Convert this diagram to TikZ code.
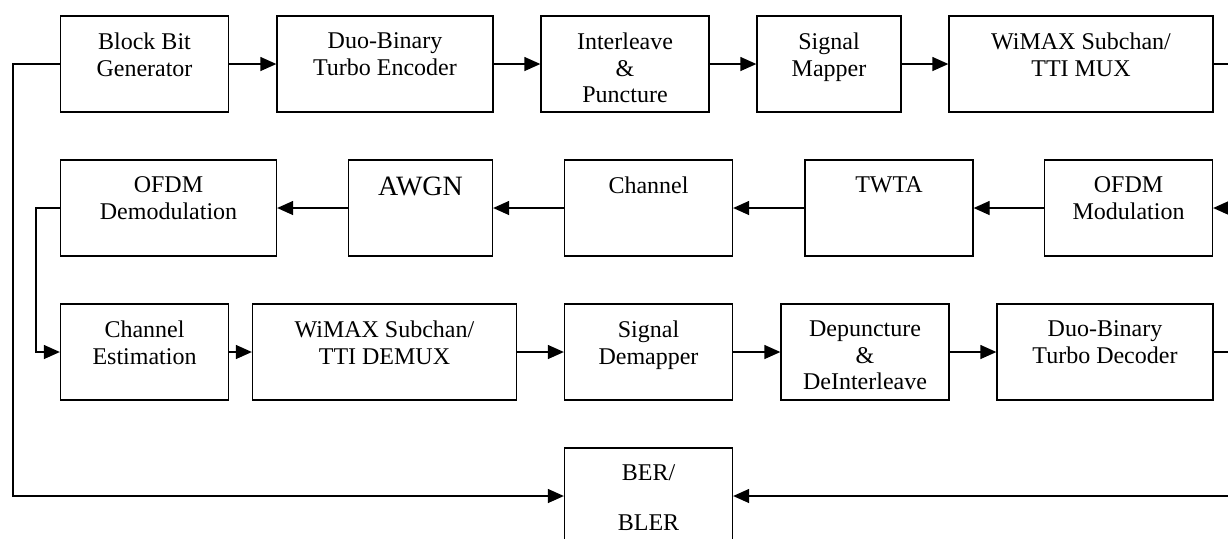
\documentclass[tikz,border=0pt]{standalone}
\usepackage{fontspec}
\setmainfont{Liberation Serif}
\usetikzlibrary{arrows.meta,positioning}

\tikzset{
  BlockBox/.style={draw, line width=0.65pt, minimum height=48pt, inner sep=0pt},
  BoxText/.style={inner sep=0pt, align=center, font=\fontsize{12}{13.3}\selectfont},
  Flow/.style={line width=0.65pt, -{Triangle[length=8pt,width=7pt]}}
}

\begin{document}
\begin{tikzpicture}[x=0.5pt,y=-0.5pt]
\path[use as bounding box, clip] (0,0) rectangle (1228,538);

% transmitter row
\node[BlockBox, minimum width=84pt]  (bbg)    at (144.5,64) {};
\node[BlockBox, minimum width=108pt] (enc)    at (385,64) {};
\node[BlockBox, minimum width=84pt]  (intl)   at (625,64) {};
\node[BlockBox, minimum width=72pt]  (map)    at (829,64) {};
\node[BlockBox, minimum width=132pt] (mux)    at (1081,64) {};

% channel row
\node[BlockBox, minimum width=108pt] (demod)  at (168.5,208) {};
\node[BlockBox, minimum width=72pt]  (awgn)   at (420.5,208) {};
\node[BlockBox, minimum width=84pt]  (chan)   at (648.5,208) {};
\node[BlockBox, minimum width=84pt]  (twta)   at (889,208) {};
\node[BlockBox, minimum width=84pt]  (mod)    at (1128.5,208) {};

% receiver row
\node[BlockBox, minimum width=84pt]  (est)    at (144.5,352) {};
\node[BlockBox, minimum width=132pt] (demux)  at (384.5,352) {};
\node[BlockBox, minimum width=84pt]  (demap)  at (648.5,352) {};
\node[BlockBox, minimum width=84pt]  (depunc) at (865,352) {};
\node[BlockBox, minimum width=108pt] (dec)    at (1105,352) {};

\node[BlockBox, minimum width=84pt]  (ber)    at (648.5,496) {};

% labels
\node[BoxText, below=8.6pt of bbg.north]    (bbgT)    {Block Bit\\Generator};
\node[BoxText, below=8.6pt of enc.north]    (encT)    {Duo-Binary\\Turbo Encoder};
\node[BoxText, below=8.6pt of intl.north]   (intlT)   {Interleave\\\&\\Puncture};
\node[BoxText, below=8.6pt of map.north]    (mapT)    {Signal\\Mapper};
\node[BoxText, below=8.6pt of mux.north]    (muxT)    {WiMAX Subchan/\\TTI MUX};
\node[BoxText, below=8.6pt of demod.north]  (demodT)  {OFDM\\Demodulation};
\node[BoxText, font=\fontsize{14}{16}\selectfont, below=8.7pt of awgn.north] (awgnT) {AWGN};
\node[BoxText, below=8.6pt of chan.north]   (chanT)   {Channel};
\node[BoxText, below=8.6pt of twta.north]   (twtaT)   {TWTA};
\node[BoxText, below=8.6pt of mod.north]    (modT)    {OFDM\\Modulation};
\node[BoxText, below=8.6pt of est.north]    (estT)    {Channel\\Estimation};
\node[BoxText, below=8.6pt of demux.north]  (demuxT)  {WiMAX Subchan/\\TTI DEMUX};
\node[BoxText, below=8.6pt of demap.north]  (demapT)  {Signal\\Demapper};
\node[BoxText, below=8.6pt of depunc.north] (depuncT) {Depuncture\\\&\\DeInterleave};
\node[BoxText, below=8.6pt of dec.north]    (decT)    {Duo-Binary\\Turbo Decoder};
\node[BoxText, below=8.6pt of ber.north]    (berT)    {BER/\\[11.7pt]BLER};

% connections
\draw[Flow] (bbg) -- (enc);
\draw[Flow] (enc) -- (intl);
\draw[Flow] (intl) -- (map);
\draw[Flow] (map) -- (mux);
\draw[Flow] (mux.east) -- ++(30,0) |- (mod.east);

\draw[Flow] (mod) -- (twta);
\draw[Flow] (twta) -- (chan);
\draw[Flow] (chan) -- (awgn);
\draw[Flow] (awgn) -- (demod);
\draw[Flow] (demod.west) -- ++(-24,0) |- (est.west);

\draw[Flow] (est) -- (demux);
\draw[Flow] (demux) -- (demap);
\draw[Flow] (demap) -- (depunc);
\draw[Flow] (depunc) -- (dec);

\draw[Flow] (dec.east) -- ++(30,0) |- (ber.east);
\draw[Flow] (bbg.west) -- ++(-47,0) |- (ber.west);

\end{tikzpicture}
\end{document}
